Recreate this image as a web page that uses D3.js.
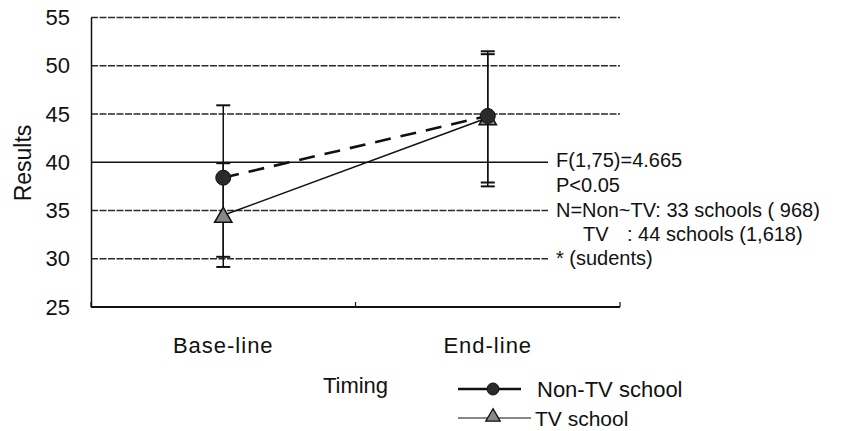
<!DOCTYPE html>
<html><head><meta charset="utf-8">
<script src="https://cdn.jsdelivr.net/npm/d3@7"></script>
<style>
html,body{margin:0;padding:0;background:#fff;}
svg{display:block;font-family:"Liberation Sans",Arial,sans-serif;}
</style></head>
<body><svg id="chart" width="843" height="431"></svg>
<script>
// ---- data ----
const categories = ["Base-line", "End-line"];
const seriesNames = ["Non-TV school", "TV school"];
const nonTV = [38.4, 44.8];
const tv = [34.5, 44.6];
const nonTVLow = [30.2, 37.5];
const nonTVHigh = [45.9, 51.5];
const tvLow = [29.15, 37.9];
const tvHigh = [39.9, 51.2];
const yTicks = [25, 30, 35, 40, 45, 50, 55];
const notes = ["F(1,75)=4.665", "P<0.05", "N=Non~TV: 33 schools ( 968)", "TV", "* (sudents)"];
const noteTV2 = ": 44 schools (1,618)";
const xTitle = "Timing";
const yTitle = "Results";

const svg = d3.select("#chart");
const L = 91, R = 620, T = 17.5, B = 307;
const x = d3.scalePoint().domain(categories).range([L, R]).padding(0.5);
const y = d3.scaleLinear().domain([25, 55]).range([B, T]);
const step = x.step();

// gridlines
svg.append("g").selectAll("line").data(yTicks.filter(v => v > 25)).join("line")
  .attr("x1", L).attr("x2", R).attr("y1", d => y(d)).attr("y2", d => y(d))
  .attr("stroke", d => d === 40 ? "#111" : "#2a2a2a")
  .attr("stroke-width", d => d === 40 ? 1.6 : 1.3)
  .attr("stroke-dasharray", d => d === 40 ? null : "7,1.5");

// white note box
svg.append("rect").attr("x", 548).attr("y", y(41.6)).attr("width", 295).attr("height", y(28.2) - y(41.6)).attr("fill", "#fff");

// y axis
const ya = svg.append("g").attr("transform", `translate(${L},0)`)
  .call(d3.axisLeft(y).tickValues(yTicks).tickSize(0).tickPadding(21));
ya.select(".domain").attr("stroke", "#111").attr("stroke-width", 1.5);
ya.selectAll("text").attr("font-size", 22).attr("fill", "#111").attr("font-family", "Liberation Sans, Arial, sans-serif");

// x axis baseline with boundary ticks
svg.append("line").attr("x1", L).attr("x2", R).attr("y1", y(25)).attr("y2", y(25)).attr("stroke", "#111").attr("stroke-width", 2);
const bounds = [x(categories[0]) - step / 2, x(categories[0]) + step / 2, x(categories[1]) + step / 2];
svg.append("g").selectAll("line").data(bounds).join("line")
  .attr("x1", d => d).attr("x2", d => d).attr("y1", y(25)).attr("y2", y(25) - 5)
  .attr("stroke", "#111").attr("stroke-width", 1.2);
svg.append("g").selectAll("text").data(categories).join("text")
  .attr("x", d => x(d)).attr("y", 345).attr("text-anchor", "middle").attr("dominant-baseline", "central")
  .attr("font-size", 22).attr("letter-spacing", 1).attr("fill", "#111").text(d => d);

// axis titles
svg.append("text").attr("transform", "translate(23,163) rotate(-90)").attr("text-anchor", "middle")
  .attr("dominant-baseline", "central").attr("font-size", 23).attr("fill", "#111").text(yTitle);
svg.append("text").attr("x", (L + R) / 2).attr("y", 385).attr("text-anchor", "middle")
  .attr("dominant-baseline", "central").attr("font-size", 22).attr("fill", "#111").text(xTitle);

// error bars
function errBars(lo, hi) {
  const g = svg.append("g").attr("stroke", "#111").attr("stroke-width", 1.5);
  categories.forEach((c, i) => {
    g.append("line").attr("x1", x(c)).attr("x2", x(c)).attr("y1", y(lo[i])).attr("y2", y(hi[i]));
    [lo[i], hi[i]].forEach(v => g.append("line").attr("x1", x(c) - 7).attr("x2", x(c) + 7).attr("y1", y(v)).attr("y2", y(v)).attr("stroke-width", 2));
  });
}
errBars(nonTVLow, nonTVHigh);
errBars(tvLow, tvHigh);

// lines
const line = d3.line().x((d, i) => x(categories[i])).y(d => y(d));
svg.append("path").datum(tv).attr("d", line).attr("fill", "none").attr("stroke", "#111").attr("stroke-width", 1.6);
svg.append("path").datum(nonTV).attr("d", line).attr("fill", "none").attr("stroke", "#111").attr("stroke-width", 2.6).attr("stroke-dasharray", "16,10");

// markers
const tri = d3.symbol().type(d3.symbolTriangle).size(130);
svg.append("g").selectAll("path").data(tv).join("path")
  .attr("d", tri).attr("transform", (d, i) => `translate(${x(categories[i])},${y(d) + 2})`)
  .attr("fill", "#888").attr("stroke", "#111").attr("stroke-width", 1.5);
svg.append("g").selectAll("circle").data(nonTV).join("circle")
  .attr("cx", (d, i) => x(categories[i])).attr("cy", d => y(d)).attr("r", 7.5)
  .attr("fill", "#2a2a2a").attr("stroke", "#111").attr("stroke-width", 1);

// notes
const noteY = [160, 185, 210, 234, 258];
const ng = svg.append("g").attr("font-size", 20).attr("fill", "#111");
notes.forEach((t, i) => {
  ng.append("text").attr("x", i === 3 ? 583 : 556).attr("y", noteY[i]).attr("dominant-baseline", "central").text(t);
});
ng.append("text").attr("x", 627).attr("y", noteY[3]).attr("dominant-baseline", "central").text(noteTV2);

// legend
const lg = svg.append("g");
// Non-TV row
lg.append("line").attr("x1", 458).attr("x2", 521).attr("y1", 389).attr("y2", 389).attr("stroke", "#111").attr("stroke-width", 2.6);
lg.append("circle").attr("cx", 493).attr("cy", 389).attr("r", 6).attr("fill", "#2a2a2a").attr("stroke", "#111");
lg.append("text").attr("x", 537).attr("y", 389).attr("dominant-baseline", "central").attr("font-size", 22).attr("fill", "#111").text(seriesNames[0]);
// TV row
lg.append("line").attr("x1", 458).attr("x2", 531).attr("y1", 418).attr("y2", 418).attr("stroke", "#111").attr("stroke-width", 1.2);
lg.append("path").attr("d", d3.symbol().type(d3.symbolTriangle).size(90)).attr("transform", "translate(493,417)")
  .attr("fill", "#888").attr("stroke", "#111").attr("stroke-width", 1.3);
lg.append("text").attr("x", 535).attr("y", 418).attr("dominant-baseline", "central").attr("font-size", 21).attr("fill", "#111").text(seriesNames[1]);
</script></body></html>
